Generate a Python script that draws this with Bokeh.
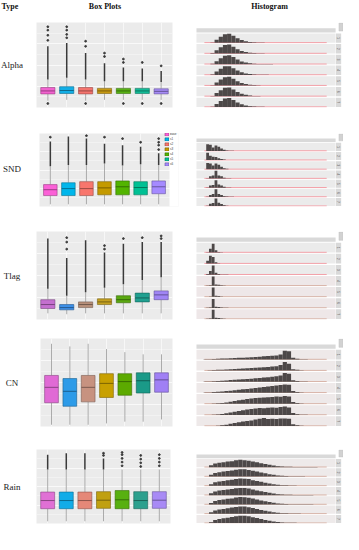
import math
from bokeh.plotting import figure
from bokeh.layouts import column, row
from bokeh.models import Range1d, ColumnDataSource, Legend, LegendItem, Grid, FixedTicker
from bokeh.core.properties import value
from bokeh.embed import file_html
from bokeh.resources import INLINE

# ---------------- data ----------------
types = ["Alpha", "SND", "Tlag", "CN", "Rain"]
headers = ["Type", "Box Plots", "Histogram"]
groups = ["base", "s1", "s2", "s3", "s4", "s5", "s6"]
facet_labels = ["1", "2", "3", "4", "5", "6", "7"]

# box plot statistics (relative units, 0-100 of each panel)
alpha_lo = [8, 9, 8, 9, 9, 9, 9]
alpha_q1 = [16, 16.5, 16, 16.5, 16.5, 16.5, 16]
alpha_med = [19.5, 20, 19.5, 19.5, 19.5, 19.5, 19]
alpha_q3 = [23.5, 24.5, 23.5, 22.5, 22.5, 22.5, 22]
alpha_hi = [33, 35, 33, 31, 31, 31, 30]
alpha_dense = [72, 76, 64, 52, 47, 46, 43]
alpha_out_grp = [1, 1, 1, 1, 2, 2, 2, 2, 3, 3, 4, 4, 5, 5, 6, 7, 1, 3, 5, 6, 7]
alpha_out_val = [79, 85, 91, 95, 82, 86, 91, 95, 72, 78, 60, 64, 53, 57, 53, 49, 4.7, 4.7, 4.7, 4.7, 4.7]

snd_lo = [3, 3, 3, 3, 3, 3, 3]
snd_q1 = [15, 15, 15, 16, 16, 16, 17.5]
snd_med = [23, 24.5, 24.5, 25.5, 27, 26, 27]
snd_q3 = [30, 32.5, 34, 34, 35, 34, 35]
snd_hi = [55, 57, 57, 59, 56, 58, 57]
snd_dense = [89, 96, 93, 86, 84, 82, 73]
snd_out_grp = [1, 3, 4, 5, 6, 7, 7, 7, 7]
snd_out_val = [95, 97, 95, 93, 88, 78, 84, 88, 93]

tlag_lo = [7, 6, 7, 7, 7, 7, 7]
tlag_q1 = [12.5, 11, 13.5, 17, 19, 20, 22.5]
tlag_med = [17, 13.5, 17, 20, 22.5, 24.5, 28]
tlag_q3 = [22.5, 17, 20, 23.5, 27, 30, 32.5]
tlag_hi = [35, 27, 31, 36, 40, 45, 48]
tlag_dense = [92, 70, 90, 76, 86, 88, 88]
tlag_out_grp = [2, 2, 2, 4, 4, 5, 6, 7, 7]
tlag_out_val = [80, 88, 93, 80, 84, 92, 93, 92, 95]

cn_lo = [2, 2, 2, 3.5, 5.5, 5.5, 8]
cn_q1 = [27, 23, 28, 33, 35.5, 38, 39]
cn_med = [44.5, 40, 44.5, 49, 51, 52, 53]
cn_q3 = [58, 54.5, 58, 60, 60, 61, 61]
cn_hi = [94, 91, 94, 88, 84.5, 82, 82]
cn_dense = [94, 91, 94, 88, 84.5, 82, 82]
cn_out_grp = []
cn_out_val = []

rain_lo = [3, 3, 3, 3, 3, 3, 3]
rain_q1 = [20, 20, 20, 20.5, 20, 20, 20.5]
rain_med = [31, 31, 31, 31.5, 32, 31, 31.5]
rain_q3 = [42.5, 42.5, 42.5, 43, 44.5, 43, 43]
rain_hi = [73, 73, 73, 73, 73, 73, 73]
rain_dense = [93, 95, 95, 88, 73, 73, 73]
rain_out_grp = [4, 4, 5, 5, 5, 5, 5, 6, 6, 6, 6, 7, 7, 7, 7]
rain_out_val = [92, 95, 78, 83, 88, 93, 96, 77, 82, 87, 92, 78, 83, 88, 93]

# histogram bar heights (relative, per facet), bins start/width in x units (0-100)
alpha_bin_start = 10
alpha_bin_width = 3
alpha_hist = [
    [4, 35, 68, 95, 100, 78, 50, 30, 17, 10, 6, 3, 2, 1, 1],
    [5, 36, 70, 96, 100, 76, 48, 29, 16, 9, 5, 3, 2, 1, 1],
    [4, 33, 66, 94, 100, 80, 52, 31, 18, 10, 6, 3, 2, 1, 1],
    [5, 37, 70, 97, 98, 76, 49, 29, 16, 9, 5, 3, 2, 1, 0],
    [4, 34, 68, 95, 100, 78, 50, 30, 17, 10, 6, 3, 1, 1, 0],
    [5, 36, 69, 96, 99, 77, 49, 29, 17, 9, 5, 3, 2, 1, 0],
    [4, 35, 67, 95, 100, 79, 51, 30, 17, 10, 6, 3, 2, 1, 0],
]
snd_bin_start = 7
snd_bin_width = 2
snd_hist = [
    [88, 80, 45, 72, 55, 30, 15, 7, 3, 1],
    [95, 58, 45, 40, 25, 15, 7, 3, 1, 1],
    [82, 75, 50, 76, 58, 32, 14, 6, 2, 1],
    [4, 30, 38, 100, 40, 30, 10, 5, 2, 1],
    [3, 28, 35, 98, 42, 28, 12, 4, 2, 1],
    [3, 25, 38, 100, 38, 25, 10, 4, 2, 1],
    [4, 30, 40, 100, 45, 28, 10, 5, 2, 1],
]
tlag_bin_start = 7
tlag_bin_width = 2
tlag_hist = [
    [3, 40, 95, 25, 6, 2, 1, 1],
    [30, 85, 70, 15, 5, 2, 1, 1],
    [8, 40, 100, 20, 6, 3, 1, 1],
    [2, 5, 100, 14, 10, 5, 2, 1],
    [2, 4, 100, 12, 10, 4, 2, 1],
    [2, 5, 98, 14, 9, 4, 2, 1],
    [2, 6, 100, 15, 10, 5, 2, 1],
]
cn_bin_start = 5
cn_bin_width = 3
cn_hist = [
    [2, 4, 6, 8, 10, 12, 14, 16, 18, 20, 22, 25, 28, 31, 34, 37, 40, 43, 55, 95, 90, 18, 9, 4, 2],
    [2, 4, 6, 8, 10, 12, 14, 17, 20, 22, 25, 28, 31, 34, 37, 40, 44, 48, 60, 92, 75, 15, 8, 4, 2],
    [2, 3, 5, 8, 11, 14, 17, 20, 23, 26, 29, 32, 36, 40, 44, 48, 52, 58, 68, 95, 85, 16, 8, 3, 1],
    [2, 4, 7, 10, 14, 18, 22, 27, 32, 37, 42, 47, 52, 57, 62, 68, 72, 78, 85, 90, 88, 18, 8, 3, 1],
    [0, 1, 3, 6, 10, 15, 22, 30, 38, 45, 52, 58, 62, 66, 70, 72, 75, 80, 78, 85, 80, 20, 8, 3, 1],
    [0, 0, 2, 5, 10, 18, 26, 35, 43, 52, 58, 64, 70, 75, 72, 78, 80, 78, 85, 92, 80, 22, 8, 3, 1],
    [0, 0, 0, 3, 8, 15, 24, 33, 42, 50, 55, 60, 70, 78, 88, 75, 78, 76, 80, 82, 78, 20, 8, 3, 0],
]
rain_bin_start = 9
rain_bin_width = 3
rain_hist = [
    [25, 48, 58, 62, 72, 76, 88, 95, 90, 84, 72, 62, 50, 40, 30, 20, 12, 9, 6, 4, 3, 2, 2, 1, 1, 1],
    [22, 46, 56, 64, 70, 78, 86, 93, 92, 85, 74, 63, 52, 41, 30, 21, 13, 9, 6, 4, 3, 2, 2, 1, 1, 1],
    [20, 45, 57, 63, 71, 77, 87, 94, 91, 86, 73, 62, 51, 40, 29, 20, 12, 8, 6, 4, 3, 2, 1, 1, 1, 0],
    [24, 47, 58, 65, 73, 79, 88, 92, 93, 84, 72, 61, 50, 39, 29, 20, 12, 8, 5, 4, 3, 2, 1, 1, 1, 0],
    [20, 44, 56, 64, 72, 78, 89, 95, 92, 86, 75, 63, 51, 40, 30, 21, 13, 9, 6, 4, 3, 2, 2, 1, 1, 0],
    [18, 43, 55, 63, 71, 80, 88, 94, 93, 85, 74, 62, 50, 39, 29, 20, 12, 8, 6, 4, 3, 2, 1, 1, 1, 0],
    [10, 40, 54, 62, 70, 79, 88, 95, 94, 87, 75, 64, 52, 41, 30, 21, 13, 9, 6, 4, 3, 2, 1, 1, 0, 0],
]
hist_line_start = 5.7
hist_line_end = 93.6

# ---------------- styles / layout ----------------
SERIF = value("Liberation Serif")
box_colors = {
    "Alpha": ["#F262CF", "#12AEE6", "#F4746E", "#C89A12", "#58B214", "#12BC98", "#A58AF5"],
    "SND": ["#FB61D7", "#00B6EB", "#F8766D", "#C49A00", "#53B400", "#00C094", "#A58AFF"],
    "Tlag": ["#C46FCF", "#3C8FE8", "#B8907A", "#C4A020", "#5AA810", "#20A090", "#A085F5"],
    "CN": ["#E06AD5", "#2D9BE8", "#C79280", "#C8A000", "#5CAA00", "#1A9A88", "#A080F5"],
    "Rain": ["#E070D5", "#12ACE8", "#E58878", "#C0A010", "#58B010", "#2CA08E", "#A88AF5"],
}
PINK = "#F3A0A8"
TAN = "#D8B4A8"
facet_bg = {
    "Alpha": ["#EBEBEB"] * 7,
    "SND": ["#EBEBEB"] * 7,
    "Tlag": ["#EBEBEB"] * 3 + ["#EEE7E8"] * 4,
    "CN": ["#EEE9E9"] * 7,
    "Rain": ["#EEEAEA"] * 7,
}
facet_line = {
    "Alpha": [PINK] * 7,
    "SND": [PINK] * 7,
    "Tlag": [PINK] * 3 + [TAN] * 4,
    "CN": [TAN] * 7,
    "Rain": [TAN] * 7,
}

S = 343 / 348.0
SY = 534 / 541.0


def X(v):
    return int(round((v - 6) * S))


def Y(v):
    return int(round((v - 5) * SY))


row_bounds = [(17, 120), (120, 229), (229, 336), (336, 442), (442, 546)]
# (left, top, right, bottom) of each box panel, and the extra legend room on the right
box_frames = [(43, 27, 180, 113), (46, 140, 177, 214), (43, 239, 180, 328),
              (47, 347, 180, 437), (43, 460, 178, 535)]
legend_room = [0, 10, 0, 0, 0]
hist_bottoms = [115, 223, 329, 437, 542]
label_y = [68, 173, 283, 389, 495]


def darker(c, f=0.62):
    r, g, b = int(c[1:3], 16), int(c[3:5], 16), int(c[5:7], 16)
    return "#%02X%02X%02X" % (int(r * f), int(g * f), int(b * f))


def base_fig(**kw):
    p = figure(toolbar_location=None, output_backend="svg", title=None,
               x_axis_type=None, y_axis_type=None, **kw)
    p.outline_line_color = None
    p.border_fill_color = "white"
    p.background_fill_color = "white"
    return p


def make_header():
    p = base_fig(width=X(354) - X(6), height=Y(17) - Y(5),
                 x_range=Range1d(6, 354), y_range=Range1d(17, 5),
                 min_border_left=0, min_border_right=0, min_border_top=0, min_border_bottom=0)
    xs = [7, 112, 279]
    aligns = ["left", "center", "center"]
    for t, x, a in zip(headers, xs, aligns):
        p.text(x=[x], y=[11.3], text=[t], text_align=a, text_baseline="middle",
               text_font=SERIF, text_font_style="bold", text_font_size="8px",
               text_color="#111111")
    return p


def make_label(i):
    rt, rb = row_bounds[i]
    p = base_fig(width=X(40) - X(6), height=Y(rb) - Y(rt),
                 x_range=Range1d(6, 40), y_range=Range1d(rb, rt),
                 min_border_left=0, min_border_right=0, min_border_top=0, min_border_bottom=0)
    p.text(x=[17.5], y=[label_y[i]], text=[types[i]], text_align="center", text_baseline="middle",
           text_font=SERIF, text_font_size="9px", text_color="#222222")
    return p


def make_box(i, lo, q1, med, q3, hi, dense, og, ov, legend=False):
    rt, rb = row_bounds[i]
    fl, ft, fr, fb = box_frames[i]
    extra = legend_room[i]
    name = types[i]
    cols = box_colors[name]
    x0, x1 = 0.4, 7.6
    ppu = (X(fr) - X(fl)) / (x1 - x0)
    x_end = x1 + (X(fr + extra) - X(fr)) / ppu
    p = base_fig(width=X(200) - X(40), height=Y(rb) - Y(rt),
                 x_range=Range1d(x0, x_end), y_range=Range1d(0, 100),
                 min_border_left=X(fl) - X(40), min_border_right=X(200) - X(fr + extra),
                 min_border_top=Y(ft) - Y(rt), min_border_bottom=Y(rb) - Y(fb))
    p.background_fill_color = "#EBEBEB"
    p.add_layout(Grid(dimension=0, ticker=FixedTicker(ticks=[1, 2, 3, 4, 5, 6, 7]),
                      grid_line_color="white", grid_line_width=0.6))
    p.add_layout(Grid(dimension=1, ticker=FixedTicker(ticks=[12.5, 37.5, 62.5, 87.5]),
                      grid_line_color="white", grid_line_width=0.35))
    p.add_layout(Grid(dimension=1, ticker=FixedTicker(ticks=[25, 50, 75]),
                      grid_line_color="white", grid_line_width=0.7))
    if extra:
        # white strip beyond the panel, where the legend sits
        p.quad(left=[x1], right=[x_end + 1], bottom=[-5], top=[105], fill_color="white", line_color=None)
    xs = list(range(1, len(groups) + 1))
    src = ColumnDataSource(dict(x=xs, grp=groups, lo=lo, q1=q1, med=med, q3=q3, hi=hi,
                                dense=dense, fill=cols, line=[darker(c) for c in cols],
                                left=[x - 0.375 for x in xs], right=[x + 0.375 for x in xs]))
    p.segment(x0="x", y0="lo", x1="x", y1="q1", source=src, line_color="#8A8A8A", line_width=0.7)
    p.segment(x0="x", y0="q3", x1="x", y1="hi", source=src, line_color="#8A8A8A", line_width=0.7)
    p.segment(x0="x", y0="hi", x1="x", y1="dense", source=src, line_color="#3A3A3A", line_width=1.5)
    if og:
        p.scatter(x=og, y=ov, size=1.8, color="#3A3A3A", marker="circle")
    r = p.vbar(x="x", width=0.75, bottom="q1", top="q3", source=src, fill_color="fill",
               line_color="line", line_width=0.6)
    p.segment(x0="left", y0="med", x1="right", y1="med", source=src, line_color="line", line_width=1.0)
    if legend:
        items = [LegendItem(label=g, renderers=[r], index=k) for k, g in enumerate(groups)]
        leg = Legend(items=items, location=(X(172) - X(fl), Y(fb) - Y(173)),
                     orientation="vertical",
                     glyph_width=5, glyph_height=4, label_height=4, label_width=6,
                     spacing=1, padding=0, margin=0, label_standoff=1,
                     label_text_font_size="3px", label_text_color="#444444",
                     background_fill_alpha=0, border_line_color=None)
        p.add_layout(leg)
    return p


PITCH = 1.14
STRIP_GAP = 0.1
STRIP_H = 0.45


def make_hist(i, hists, start, width):
    rt, rb = row_bounds[i]
    fb = hist_bottoms[i]
    ft = fb - 99
    name = types[i]
    p = base_fig(width=X(354) - X(200), height=Y(rb) - Y(rt),
                 x_range=Range1d((203 - 205) / 141 * 100, (354 - 205) / 141 * 100),
                 y_range=Range1d(-0.05, 9.0),
                 min_border_left=X(203) - X(200), min_border_right=0,
                 min_border_top=Y(ft) - Y(rt), min_border_bottom=Y(rb) - Y(fb))
    n = len(hists)
    bases = [(n - 1 - k) * PITCH for k in range(n)]
    # facet panels
    p.quad(left=[0] * n, right=[100] * n, bottom=bases, top=[b + 1 for b in bases],
           fill_color=facet_bg[name], line_color=None)
    # right strips
    p.quad(left=[100.3] * n, right=[104] * n, bottom=bases, top=[b + 1 for b in bases],
           fill_color="#D9D9D9", line_color=None)
    strip_b = bases[0] + 1 + STRIP_GAP
    p.quad(left=[0], right=[100], bottom=[strip_b], top=[strip_b + STRIP_H],
           fill_color="#D9D9D9", line_color=None)
    p.quad(left=[102.4], right=[105.3], bottom=[strip_b + 0.15], top=[strip_b + STRIP_H + 0.55],
           fill_color="#D2D2D2", line_color="#BDBDBD", line_width=0.4)
    p.text(x=[102.15] * n, y=[b + 0.5 for b in bases], text=facet_labels, angle=-math.pi / 2,
           text_align="center", text_baseline="middle", text_font_size="3.5px", text_color="#555555")
    # baselines
    p.segment(x0=[hist_line_start] * n, y0=[b + 0.02 for b in bases],
              x1=[hist_line_end] * n, y1=[b + 0.02 for b in bases],
              line_color=facet_line[name], line_width=1.0)
    # bars
    L, R, B, T = [], [], [], []
    for k, vals in enumerate(hists):
        for j, v in enumerate(vals):
            if v <= 0:
                continue
            L.append(start + j * width)
            R.append(start + (j + 1) * width)
            B.append(bases[k])
            T.append(bases[k] + v / 100.0 * 0.95)
    p.quad(left=L, right=R, bottom=B, top=T, fill_color="#4D4848", line_color=None)
    return p


box_data = [
    (alpha_lo, alpha_q1, alpha_med, alpha_q3, alpha_hi, alpha_dense, alpha_out_grp, alpha_out_val),
    (snd_lo, snd_q1, snd_med, snd_q3, snd_hi, snd_dense, snd_out_grp, snd_out_val),
    (tlag_lo, tlag_q1, tlag_med, tlag_q3, tlag_hi, tlag_dense, tlag_out_grp, tlag_out_val),
    (cn_lo, cn_q1, cn_med, cn_q3, cn_hi, cn_dense, cn_out_grp, cn_out_val),
    (rain_lo, rain_q1, rain_med, rain_q3, rain_hi, rain_dense, rain_out_grp, rain_out_val),
]
hist_data = [
    (alpha_hist, alpha_bin_start, alpha_bin_width),
    (snd_hist, snd_bin_start, snd_bin_width),
    (tlag_hist, tlag_bin_start, tlag_bin_width),
    (cn_hist, cn_bin_start, cn_bin_width),
    (rain_hist, rain_bin_start, rain_bin_width),
]

rows = [make_header()]
for i in range(5):
    rows.append(row(make_label(i),
                    make_box(i, *box_data[i], legend=(i == 1)),
                    make_hist(i, *hist_data[i])))

p = column(*rows)
open("out.html", "w").write(file_html(p, INLINE))
